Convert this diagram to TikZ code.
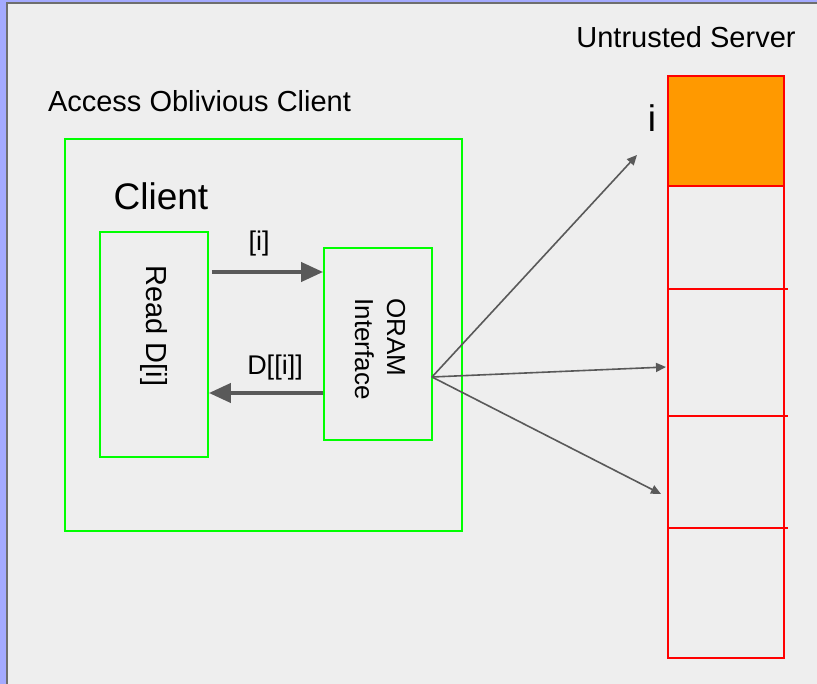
\documentclass[tikz,border=0pt]{standalone}
\usepackage{fontspec}
\setmainfont{Liberation Sans}
\usepackage{tikz}
\usetikzlibrary{arrows.meta}

\definecolor{frameblue}{HTML}{A4AAFF}
\definecolor{canvasgray}{HTML}{EEEEEE}
\definecolor{edgegray}{HTML}{6E6E6E}
\definecolor{arrowgray}{HTML}{595959}
\definecolor{boxgreen}{HTML}{00FF00}
\definecolor{cellred}{HTML}{FF0000}
\definecolor{cellorange}{HTML}{FF9900}

\tikzset{
  gbox/.style={draw=boxgreen, line width=1.8pt, minimum width=#1},
  gbox/.default=0pt,
  txt/.style={inner sep=0pt, font=\fontsize{29}{33}\selectfont},
  lbltxt/.style={inner sep=0pt, font=\fontsize{27}{31}\selectfont},
  bigtxt/.style={inner sep=0pt, font=\fontsize{37}{42}\selectfont},
  fatarrow/.style={draw=arrowgray, line width=4pt, -{Triangle[length=22pt, width=19pt]}},
  thinarrow/.style={draw=arrowgray, line width=1.6pt, -{Triangle[length=10pt, width=9pt]}},
  redline/.style={draw=cellred, line width=1.8pt}
}

\begin{document}
\begin{tikzpicture}[x=1pt, y=-1pt]
\useasboundingbox (0,0) rectangle (817,684);

% frame and canvas
\fill[frameblue] (0,0) rectangle (817,684);
\fill[canvasgray] (7,3.5) rectangle (817,684);
\draw[edgegray, line width=2pt] (7,684) -- (7,3.5) -- (817,3.5);

% titles
\node[txt] (aoc) at (199.5,101) {Access Oblivious Client};
\node[txt] (srv) at (686,37) {Untrusted Server};

% client side
\node[gbox, minimum width=397pt, minimum height=392pt] (outer) at (263.5,335) {};
\node[bigtxt] (clientlbl) at (161,196) {Client};
\node[gbox, minimum width=108pt, minimum height=225pt] (read) at (154,344.5) {};
\node[gbox, minimum width=108pt, minimum height=192pt] (oram) at (378,344) {};
\node[txt, rotate=-90] (readlbl) at (154,326) {Read D[i]};
\node[inner sep=0pt, rotate=-90, align=left, font=\fontsize{26}{32}\selectfont] (oramlbl) at (380,349) {ORAM\\Interface};

\node[lbltxt] (reqlbl) at (259,244) {[i]};
\node[lbltxt] (resplbl) at (275,368) {D[[i]]};

\coordinate (reqa) at (read.east |- 0,272);
\coordinate (reqb) at (oram.west |- 0,272);
\coordinate (respa) at (oram.west |- 0,393);
\coordinate (respb) at (read.east |- 0,393);
\draw[fatarrow] ([xshift=3pt]reqa) -- (reqb);
\draw[fatarrow] (respa) -- (respb);

% server column
\fill[cellorange] (668,76) rectangle (784,186);
\draw[redline] (668,76) rectangle (784,658);
\draw[redline] (668,186) -- (784,186);
\foreach \y in {289,416,528}
  \draw[redline] (668,\y) -- (788,\y);
\node[bigtxt] (idx) at (652,118) {i};

% accesses from the interface
\coordinate (fan) at (432,377);
\coordinate (hit) at (637,155);
\coordinate (miss1) at (666,367);
\coordinate (miss2) at (661,494);
\draw[thinarrow] (fan) -- (hit);
\draw[thinarrow] (fan) -- (miss1);
\draw[thinarrow] (fan) -- (miss2);
\end{tikzpicture}
\end{document}
